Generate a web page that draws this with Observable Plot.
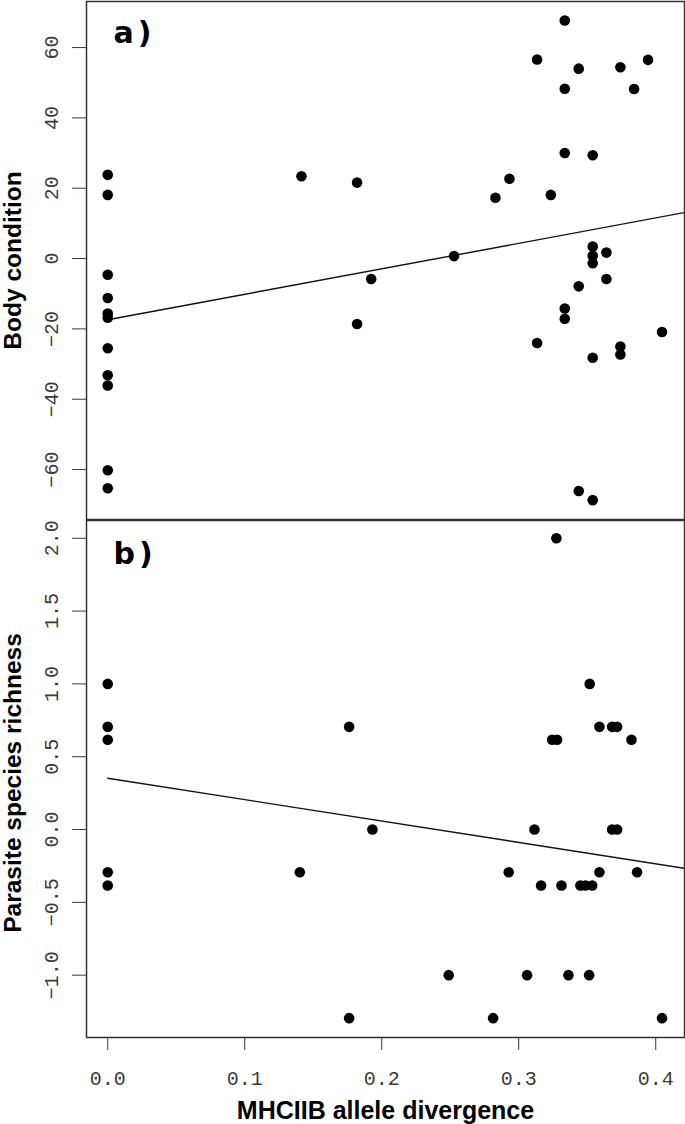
<!DOCTYPE html>
<html><head><meta charset="utf-8">
<script src="https://cdn.jsdelivr.net/npm/d3@7"></script>
<script src="https://cdn.jsdelivr.net/npm/@observablehq/plot@0.6"></script>
<style>body{margin:0;background:#fff} svg{display:block;background:#fff}</style>
</head><body><div id="chart"></div>
<script>
// Panel a: MHCIIB allele divergence vs body condition
const divergenceA = [0,0,0,0,0,0,0,0,0,0,0,
  0.1414, 0.182, 0.182, 0.1923, 0.2528, 0.283, 0.2932, 0.3134, 0.3134, 0.3234,
  0.3336, 0.3336, 0.3336, 0.3336, 0.3336, 0.3438, 0.3438, 0.3438,
  0.354, 0.354, 0.354, 0.354, 0.354, 0.354, 0.364, 0.364,
  0.3742, 0.3742, 0.3742, 0.3842, 0.3944, 0.4046];
const bodyCondition = [23.8, 18.1, -4.6, -11.2, -15.6, -16.8, -25.5, -33.2, -36.1, -60.2, -65.3,
  23.4, 21.6, -18.6, -5.8, 0.7, 17.3, 22.7, 56.6, -24.0, 18.1,
  67.7, 48.3, 30.0, -14.2, -17.1, 54.0, -7.9, -66.1,
  29.4, 3.4, 0.8, -1.3, -28.2, -68.7, 1.7, -5.8,
  54.4, -25.0, -27.3, 48.2, 56.5, -20.9];

// Panel b: MHCIIB allele divergence vs parasite species richness
const divergenceB = [0,0,0,0,0,
  0.1402, 0.1762, 0.1762, 0.1932, 0.2489, 0.2813, 0.2927, 0.3061, 0.3115, 0.3163,
  0.3244, 0.3275, 0.328, 0.3312, 0.3363, 0.345, 0.3487, 0.3514, 0.3518, 0.3536,
  0.3589, 0.3589, 0.3682, 0.3682, 0.3718, 0.3718, 0.3823, 0.3864, 0.4046];
const parasiteRichness = [1.0, 0.705, 0.616, -0.293, -0.384,
  -0.293, 0.705, -1.295, 0, -1.0, -1.295, -0.293, -1.0, 0, -0.384,
  0.616, 2.0, 0.616, -0.384, -1.0, -0.384, -0.384, -1.0, 1.0, -0.384,
  0.705, -0.293, 0.705, 0, 0.705, 0, 0.616, -0.293, -1.295];

// Fitted regression lines (intercept, slope) for panels a and b
const fitIntercept = [-17.4, 0.352];
const fitSlope = [72.4, -1.468];

const panelLabels = ["a)", "b)"];
const yTitles = ["Body condition", "Parasite species richness"];
const xTitle = "MHCIIB allele divergence";
const xTicks = [0, 0.1, 0.2, 0.3, 0.4];
const yTicksA = [-60, -40, -20, 0, 20, 40, 60];
const yTicksB = [-1.0, -0.5, 0.0, 0.5, 1.0, 1.5, 2.0];

const xDomain = [-0.0155, 0.421];
const tickFont = "'Liberation Mono', 'DejaVu Sans Mono', monospace";
const titleFont = "'Liberation Sans', Arial, sans-serif";
const labelFont = "'DejaVu Sans', 'Liberation Sans', sans-serif";

function fitLine(i) {
  const xs = [0, xDomain[1]];
  return xs.map(x => ({x, y: fitIntercept[i] + fitSlope[i] * x}));
}

const dataA = divergenceA.map((x, i) => ({x, y: bodyCondition[i]}));
const dataB = divergenceB.map((x, i) => ({x, y: parasiteRichness[i]}));

const common = {
  width: 685, marginLeft: 86, marginRight: 1,
  style: {background: "#fff", overflow: "visible"}
};

const panelA = Plot.plot({
  ...common,
  height: 520, marginTop: 1, marginBottom: 1,
  x: {domain: xDomain, axis: null},
  y: {domain: [-74.2, 73.1], axis: null},
  marks: [
    Plot.axisY({ticks: yTicksA, tickFormat: d => d3.format("d")(d), tickSize: 14, tickRotate: -90, tickPadding: 15,
      fontSize: 20, fontFamily: tickFont, color: "#3a3a3a", label: null}),
    Plot.line(fitLine(0), {x: "x", y: "y", stroke: "#111", strokeWidth: 1.4, clip: true}),
    Plot.dot(dataA, {x: "x", y: "y", r: 5.3, fill: "#000", stroke: "none"}),
    Plot.frame({stroke: "#333", strokeWidth: 1.5}),
    Plot.text([panelLabels[0]], {frameAnchor: "top-left", dx: 27, dy: 32, textAnchor: "start", lineAnchor: "middle",
      fontSize: 30, fontWeight: 900, fontFamily: labelFont, fill: "#000"}),
    Plot.text([yTitles[0]], {frameAnchor: "left", dx: -73, rotate: -90, textAnchor: "middle", lineAnchor: "middle",
      fontSize: 24.5, fontWeight: "bold", fontFamily: titleFont, fill: "#000"})
  ]
});

const panelB = Plot.plot({
  ...common,
  height: 605, marginTop: 1, marginBottom: 87,
  x: {domain: xDomain},
  y: {domain: [-1.428, 2.122], axis: null},
  marks: [
    Plot.axisY({ticks: yTicksB, tickFormat: d3.format(".1f"), tickSize: 14, tickRotate: -90, tickPadding: 15,
      fontSize: 20, fontFamily: tickFont, color: "#3a3a3a", label: null}),
    Plot.axisX({ticks: xTicks, tickFormat: d3.format(".1f"), tickSize: 13, tickPadding: 20,
      fontSize: 20, fontFamily: tickFont, color: "#3a3a3a", label: null}),
    Plot.line(fitLine(1), {x: "x", y: "y", stroke: "#111", strokeWidth: 1.4, clip: true}),
    Plot.dot(dataB, {x: "x", y: "y", r: 5.3, fill: "#000", stroke: "none"}),
    Plot.frame({stroke: "#333", strokeWidth: 1.5}),
    Plot.text([panelLabels[1]], {frameAnchor: "top-left", dx: 27, dy: 34, textAnchor: "start", lineAnchor: "middle",
      fontSize: 30, fontWeight: 900, fontFamily: labelFont, fill: "#000"}),
    Plot.text([yTitles[1]], {frameAnchor: "left", dx: -73, dy: 4, rotate: -90, textAnchor: "middle", lineAnchor: "middle",
      fontSize: 24.5, fontWeight: "bold", fontFamily: titleFont, fill: "#000"}),
    Plot.text([xTitle], {frameAnchor: "bottom", dy: 73, textAnchor: "middle", lineAnchor: "middle",
      fontSize: 25, fontWeight: "bold", fontFamily: titleFont, fill: "#000"})
  ]
});
panelB.style.marginTop = "-1px";

// widen the panel letters slightly, as in the original
for (const svg of [panelA, panelB]) {
  d3.select(svg).selectAll("text").filter(function() { return panelLabels.includes(this.textContent); })
    .style("letter-spacing", "4px");
}

const root = document.getElementById("chart");
root.appendChild(panelA);
root.appendChild(panelB);
</script>
</body></html>
